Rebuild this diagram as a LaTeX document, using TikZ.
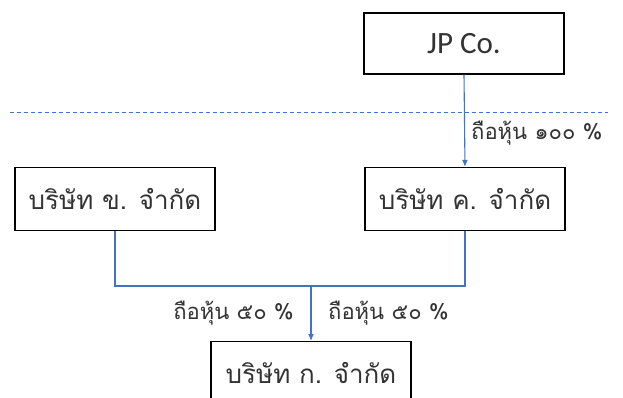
\documentclass[tikz,border=0pt]{standalone}
\usepackage{fontspec}
\setmainfont{Carlito}
\newfontfamily\thaifont[Script=Thai]{Loma}
\usetikzlibrary{arrows.meta}
\definecolor{lineblue}{HTML}{4472C4}
\definecolor{txt}{HTML}{333333}
\begin{document}
\begin{tikzpicture}[x=1pt,y=1pt,
  box/.style={draw=black,line width=1.3pt,minimum width=200pt,minimum height=63pt,inner sep=0pt,text=txt},
  conn/.style={draw=lineblue,line width=1.1pt},
  arr/.style={conn,-{Latex[length=7pt,width=6pt]}},
  lbl/.style={text=txt,inner sep=0pt,font=\thaifont\fontsize{22}{26}\selectfont}]
\useasboundingbox (0,0) rectangle (623,-398);
\clip (0,0) rectangle (623,-398);
\node[box,font=\fontsize{31}{36}\selectfont,minimum height=61pt] (jp) at (464,-43.5) {JP Co.};
\node[box,font=\thaifont\fontsize{26}{30}\selectfont] (b) at (115,-199) {บริษัท ข. จำกัด};
\node[box,font=\thaifont\fontsize{26}{30}\selectfont] (c) at (465,-199) {บริษัท ค. จำกัด};
\node[box,font=\thaifont\fontsize{26}{30}\selectfont,anchor=north] (a) at (311,-341) {บริษัท ก. จำกัด};
\coordinate (dl) at (10,-112);
\coordinate (dr) at (608,-112);
\draw[draw=lineblue,line width=0.8pt,dash pattern=on 4pt off 3pt] (dl) -- (dr);
\draw[arr] (jp.south) -- (c.north);
\coordinate (j) at (311,-286);
\draw[conn] (b.south) -- (b.south |- j) -- (c.south |- j) -- (c.south);
\draw[arr] (j) -- (a.north);
\node[lbl,anchor=west] (l1) at (471,-133) {ถือหุ้น ๑๐๐ \%};
\node[lbl,anchor=east] (l2) at (294,-313) {ถือหุ้น ๕๐ \%};
\node[lbl,anchor=west] (l3) at (328,-313) {ถือหุ้น ๕๐ \%};
\end{tikzpicture}
\end{document}
